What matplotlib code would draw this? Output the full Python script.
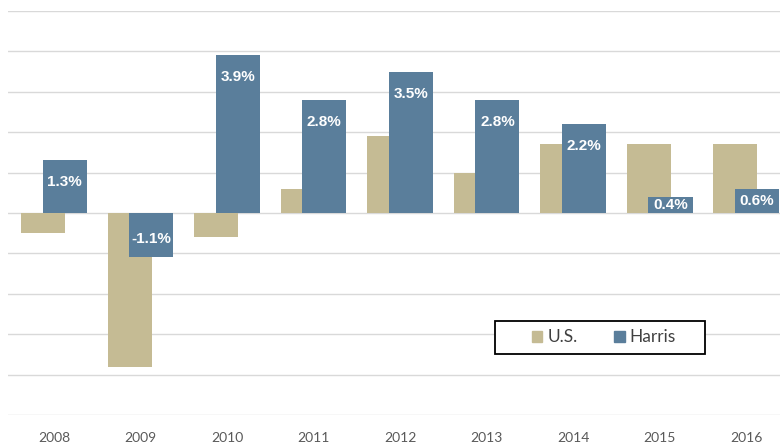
import numpy as np
import matplotlib
matplotlib.use("Agg")
import matplotlib.pyplot as plt
from matplotlib.patches import Patch, Rectangle

years = ["2008", "2009", "2010", "2011", "2012", "2013", "2014", "2015", "2016"]
us = [-0.5, -3.8, -0.6, 0.6, 1.9, 1.0, 1.7, 1.7, 1.7]
harris = [1.3, -1.1, 3.9, 2.8, 3.5, 2.8, 2.2, 0.4, 0.6]

tan = "#C5BB94"
blue = "#5A7E9B"

fig = plt.figure(figsize=(7.8, 4.46), dpi=100)
ax = fig.add_axes([8 / 780, 31 / 446, 772 / 780, 404 / 446])

x = np.arange(len(years))
width = 0.51
off = 0.125
ax.bar(x - off, us, width, color=tan, zorder=2)
bars = ax.bar(x + off, harris, width, color=blue, zorder=3)

ax.set_xlim(-0.53, 8.39)
ax.set_ylim(-5, 5)

# labels sit inside the bar end, or in the middle when the bar is short
px_per_unit = 404 / 10
for b, v in zip(bars, harris):
    cx = b.get_x() + b.get_width() / 2
    h_px = abs(v) * px_per_unit
    if v >= 0:
        dy = -min(22, h_px / 2)
    else:
        dy = min(18, h_px / 2)
    t = ax.annotate(f"{v:.1f}%", (cx, v), xytext=(0, dy * 72 / 100), textcoords="offset points",
                    ha="center", va="center", color="white", fontsize=11,
                    fontweight="bold", family="Liberation Sans", zorder=4)
    t.set_clip_path(b)

ax.set_yticks(np.arange(-5, 6, 1))
ax.yaxis.grid(True, color="#D9D9D9", linewidth=1, zorder=0)
ax.set_yticklabels([])
ax.tick_params(axis="y", length=0)
ax.set_xticks(x)
ax.set_xticklabels(years, family="Lato", fontsize=10, color="#595959")
ax.tick_params(axis="x", length=0, pad=12)
for s in ax.spines.values():
    s.set_visible(False)

# legend box
fig.patches.append(Rectangle((495 / 780, 92 / 446), 210 / 780, 33 / 446,
                             transform=fig.transFigure, fill=True, facecolor="white",
                             edgecolor="black", linewidth=1.3, zorder=5))
handles = [Patch(color=tan, label="U.S."), Patch(color=blue, label="Harris")]
leg = fig.legend(handles=handles, loc="center", bbox_to_anchor=(604 / 780, 108.5 / 446),
                 ncol=2, frameon=False, prop={"family": "Lato", "size": 12.5},
                 handlelength=0.6, handleheight=0.6, columnspacing=2.1,
                 handletextpad=0.3, borderpad=0)
leg.set_zorder(6)
for t in leg.get_texts():
    t.set_color("#404040")

fig.savefig("out.png", dpi=100)
